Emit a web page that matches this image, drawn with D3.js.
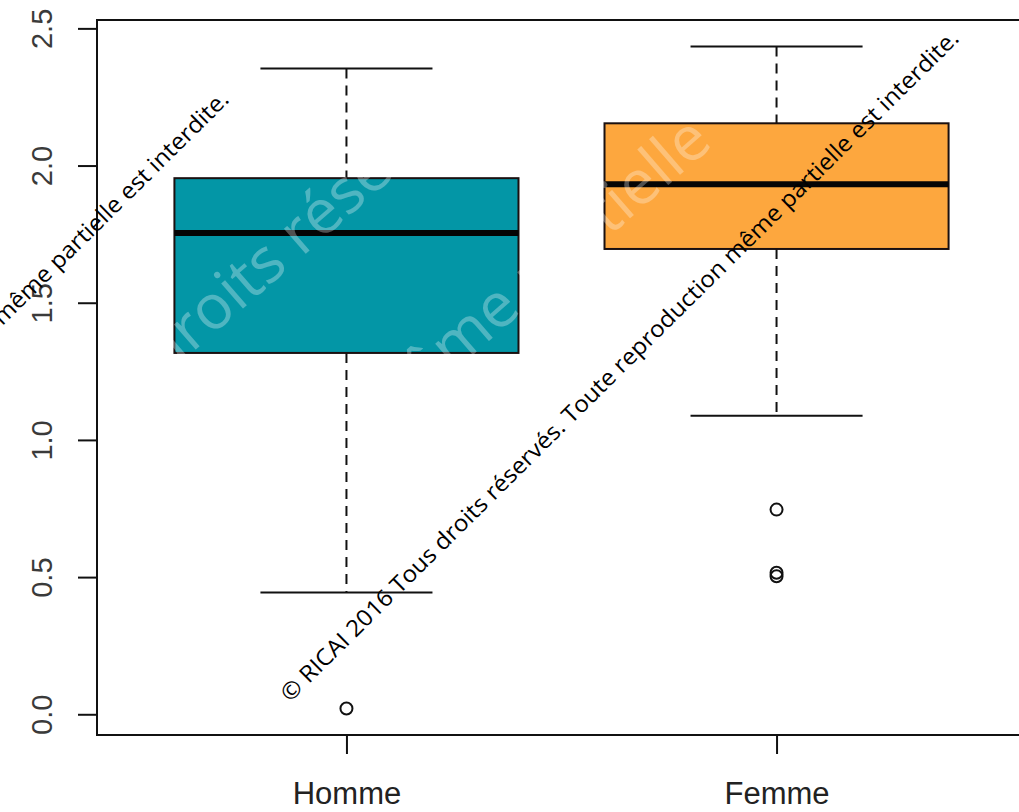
<!DOCTYPE html>
<html>
<head>
<meta charset="utf-8">
<script src="https://cdn.jsdelivr.net/npm/d3@7"></script>
<style>
  html, body { margin: 0; padding: 0; background: #fff; overflow: hidden; }
  svg { display: block; }
</style>
</head>
<body>
<svg id="chart" width="1019" height="812"></svg>
<script>
// Five-number summaries per group, plus points beyond the whiskers
const categories   = ["Homme", "Femme"];
const whiskerLow   = [0.444, 1.088];
const q1           = [1.317, 1.696];
const median       = [1.754, 1.932];
const q3           = [1.954, 2.154];
const whiskerHigh  = [2.354, 2.434];
const outliers     = [[0.021], [0.746, 0.516, 0.503]];
const fills        = ["#0396a6", "#fda73e"];
const yTicks       = [0.0, 0.5, 1.0, 1.5, 2.0, 2.5];
const notice       = "© RICAI 2016 Tous droits réservés. Toute reproduction même partielle est interdite.";

const svg = d3.select("#chart");
const plot = { left: 97, right: 1026, top: 20, bottom: 735 };

// R-style axis ranges: data range widened by 4% on each side
const allVals = whiskerLow.concat(whiskerHigh, outliers.flat());
const [ymin, ymax] = d3.extent(allVals);
const ypad = (ymax - ymin) * 0.04;
const y = d3.scaleLinear().domain([ymin - ypad, ymax + ypad]).range([plot.bottom, plot.top]);

const xlo = 0.5, xhi = categories.length + 0.5, xpad = (xhi - xlo) * 0.04;
const x = d3.scaleLinear().domain([xlo - xpad, xhi + xpad]).range([plot.left, plot.right]);

const boxW = x(0.8) - x(0);
const capW = x(0.4) - x(0);

const groups = svg.append("g").selectAll("g")
  .data(categories.map((c, i) => ({
    c, i, pos: i + 1,
    lo: whiskerLow[i], q1: q1[i], med: median[i], q3: q3[i], hi: whiskerHigh[i],
    out: outliers[i], fill: fills[i]
  })))
  .join("g");

// dashed whiskers
groups.append("line")
  .attr("x1", d => x(d.pos)).attr("x2", d => x(d.pos))
  .attr("y1", d => y(d.hi)).attr("y2", d => y(d.q3))
  .attr("stroke", "#111").attr("stroke-width", 2).attr("stroke-dasharray", "10,7");
groups.append("line")
  .attr("x1", d => x(d.pos)).attr("x2", d => x(d.pos))
  .attr("y1", d => y(d.q1)).attr("y2", d => y(d.lo))
  .attr("stroke", "#111").attr("stroke-width", 2).attr("stroke-dasharray", "10,7");

// staples
["hi", "lo"].forEach(k => {
  groups.append("line")
    .attr("x1", d => x(d.pos) - capW / 2).attr("x2", d => x(d.pos) + capW / 2)
    .attr("y1", d => y(d[k])).attr("y2", d => y(d[k]))
    .attr("stroke", "#111").attr("stroke-width", 2);
});

// boxes
const boxes = groups.append("rect")
  .attr("x", d => x(d.pos) - boxW / 2)
  .attr("width", boxW)
  .attr("y", d => y(d.q3))
  .attr("height", d => y(d.q1) - y(d.q3))
  .attr("fill", d => d.fill)
  .attr("stroke", "#1a1010").attr("stroke-width", 2);

// large faint watermark lettering over the boxes
const faint = svg.append("g").attr("fill", "#ffffff").attr("fill-opacity", 0.3)
  .style("font-family", "'Open Sans', sans-serif").style("font-size", "62px");
faint.append("text").attr("transform", "translate(163,378) rotate(-41)").text("droits réservés.");
faint.append("text").attr("transform", "translate(383,433) rotate(-41)")
  .attr("textLength", 439).attr("lengthAdjust", "spacingAndGlyphs").text("même partielle");

// medians
groups.append("line")
  .attr("x1", d => x(d.pos) - boxW / 2).attr("x2", d => x(d.pos) + boxW / 2)
  .attr("y1", d => y(d.med)).attr("y2", d => y(d.med))
  .attr("stroke", "#050505").attr("stroke-width", 6);

// outlying points
groups.selectAll("circle")
  .data(d => d.out.map(v => ({ v, pos: d.pos })))
  .join("circle")
  .attr("cx", d => x(d.pos)).attr("cy", d => y(d.v))
  .attr("r", 6).attr("fill", "none").attr("stroke", "#111").attr("stroke-width", 2);

// plot frame
svg.append("rect")
  .attr("x", plot.left).attr("y", plot.top)
  .attr("width", plot.right - plot.left).attr("height", plot.bottom - plot.top)
  .attr("fill", "none").attr("stroke", "#111").attr("stroke-width", 2);

// y axis: ticks and labels rotated parallel to the axis
const yAxis = svg.append("g")
  .attr("transform", `translate(${plot.left},0)`)
  .call(d3.axisLeft(y).tickValues(yTicks).tickSize(19).tickFormat(d3.format(".1f")));
yAxis.select(".domain").remove();
yAxis.selectAll(".tick line").attr("stroke", "#111").attr("stroke-width", 2);
yAxis.selectAll(".tick text")
  .attr("x", null).attr("dy", null)
  .attr("transform", "translate(-45,0) rotate(-90)")
  .attr("text-anchor", "middle")
  .attr("fill", "#3a3a3a")
  .style("font-family", "'Liberation Sans', Arial, sans-serif")
  .style("font-size", "29px");

// x axis: one tick per group
const xAxis = svg.append("g")
  .attr("transform", `translate(0,${plot.bottom})`)
  .call(d3.axisBottom(x).tickValues(categories.map((c, i) => i + 1))
    .tickSize(19).tickFormat((d) => categories[d - 1]));
xAxis.select(".domain").remove();
xAxis.selectAll(".tick line").attr("stroke", "#111").attr("stroke-width", 2);
xAxis.selectAll(".tick text")
  .attr("y", 69).attr("dy", null)
  .attr("fill", "#222")
  .style("font-family", "'Liberation Sans', Arial, sans-serif")
  .style("font-size", "31px");

// copyright notice, written diagonally twice
const noteG = svg.append("g").attr("fill", "#000")
  .style("font-family", "'Open Sans', sans-serif").style("font-size", "23px");
[[290, 703], [-440, 764]].forEach(([tx, ty]) => {
  noteG.append("text")
    .attr("transform", `translate(${tx},${ty}) rotate(-44.7)`)
    .attr("textLength", 943).attr("lengthAdjust", "spacingAndGlyphs")
    .text(notice);
});
</script>
</body>
</html>
